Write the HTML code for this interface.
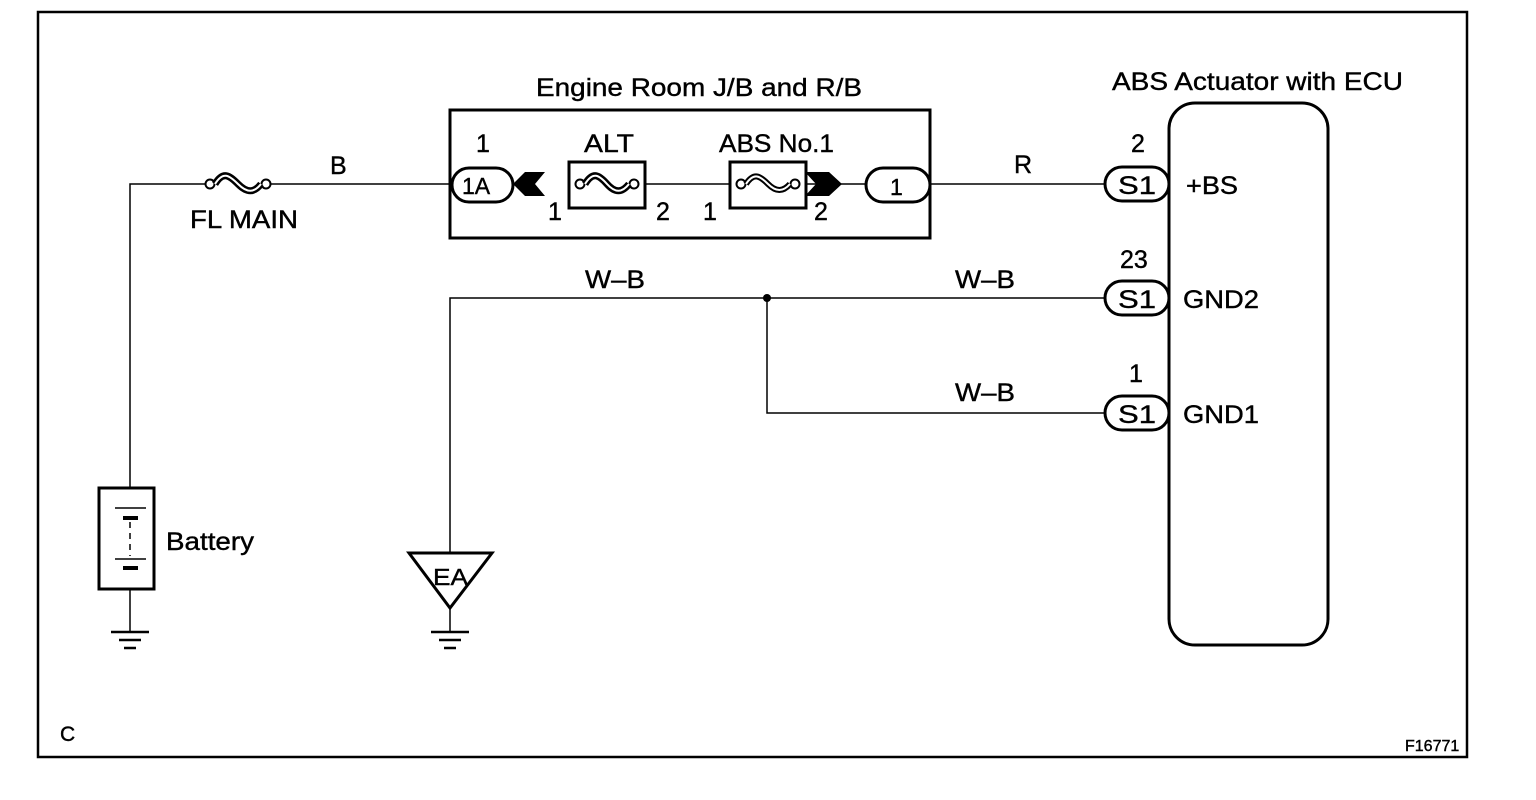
<!DOCTYPE html>
<html><head><meta charset="utf-8"><style>
html,body{margin:0;padding:0;background:#fff;}
svg{display:block;}
text{font-family:"Liberation Sans",Arial,sans-serif;fill:#000;stroke:#000;stroke-width:0.4;}
</style></head><body>
<svg width="1536" height="800" viewBox="0 0 1536 800" xmlns="http://www.w3.org/2000/svg">
<g fill="none" stroke="#000">
<rect x="38" y="12" width="1429" height="745" stroke-width="2.5"/>
<rect x="450" y="110" width="480" height="128" stroke-width="3"/>
<rect x="1169" y="103" width="159" height="542" rx="26" stroke-width="3"/>
<path d="M130 488 V184 H206 M268 184 H452" stroke-width="1.5"/>
<path d="M645 184 H730" stroke-width="1.5"/>
<path d="M930 184 H1106" stroke-width="1.5"/>
<path d="M450 553 V298 H1106 M767 298 V413 H1106" stroke-width="1.5"/>
<path d="M130 589 V632 M450 608 V632" stroke-width="1.5"/>
<circle cx="210" cy="184" r="4.5" stroke-width="2" fill="#fff"/>
<circle cx="266" cy="184" r="4.5" stroke-width="2" fill="#fff"/>
<path d="M215 184 c8 -13 14 -9 23 0 s16 9 23 0" stroke-width="7"/>
<path d="M215 184 c8 -13 14 -9 23 0 s16 9 23 0" stroke-width="2" stroke="#fff"/>
<rect x="99" y="488" width="55" height="101" stroke-width="3"/>
<path d="M115 508 H146 M115 559 H146" stroke-width="1.5"/>
<path d="M123 518 H138 M123 568 H138" stroke-width="4"/>
<path d="M130 522 V556" stroke-width="1.5" stroke-dasharray="6 5"/>
<path d="M111 632 H149 M119 640 H141 M124 648 H136" stroke-width="2.5"/>
<path d="M431 632 H469 M439 640 H461 M444 648 H456" stroke-width="2.5"/>
<path d="M409 553 H492 L450 608 Z" stroke-width="3"/>
<rect x="452" y="168" width="61" height="34" rx="17" stroke-width="3"/>
<rect x="569" y="162" width="76" height="46" stroke-width="3"/>
<circle cx="580" cy="184" r="4.5" stroke-width="2" fill="#fff"/>
<circle cx="634" cy="184" r="4.5" stroke-width="2" fill="#fff"/>
<path d="M585 184 c8 -13 14 -9 22 0 s15 9 22 0" stroke-width="7"/>
<path d="M585 184 c8 -13 14 -9 22 0 s15 9 22 0" stroke-width="2" stroke="#fff"/>
<rect x="730" y="162" width="76" height="46" stroke-width="3"/>
<circle cx="741" cy="184" r="4.5" stroke-width="2" fill="#fff"/>
<circle cx="795" cy="184" r="4.5" stroke-width="2" fill="#fff"/>
<path d="M746 184 c8 -12 14 -8 22 0 s15 8 22 0" stroke-width="6"/>
<path d="M746 184 c8 -12 14 -8 22 0 s15 8 22 0" stroke-width="2" stroke="#fff"/>
<path d="M806 184 H866" stroke-width="1.5"/>
<rect x="866" y="168" width="64" height="34" rx="17" stroke-width="3"/>
<rect x="1105" y="167" width="64" height="34" rx="17" stroke-width="3"/>
<rect x="1105" y="281" width="64" height="34" rx="17" stroke-width="3"/>
<rect x="1105" y="396" width="64" height="34" rx="17" stroke-width="3"/>
</g>
<path d="M513 184 L525 172 H545 L535 184 L545 196 H525 Z" fill="#000"/>
<path d="M805 172 H829 L842 184 L829 196 H805 L816 184 Z" fill="#000"/>
<circle cx="767" cy="298" r="4" fill="#000"/>
<g font-size="25">
<text x="536" y="96" textLength="326" lengthAdjust="spacingAndGlyphs">Engine Room J/B and R/B</text>
<text x="1112" y="90" textLength="291" lengthAdjust="spacingAndGlyphs">ABS Actuator with ECU</text>
<text x="330" y="174">B</text>
<text x="190" y="228" textLength="108" lengthAdjust="spacingAndGlyphs">FL MAIN</text>
<text x="476" y="152">1</text>
<text x="462" y="194" font-size="23">1A</text>
<text x="584" y="152" textLength="50" lengthAdjust="spacingAndGlyphs">ALT</text>
<text x="719" y="152" textLength="115" lengthAdjust="spacingAndGlyphs">ABS No.1</text>
<text x="548" y="220">1</text>
<text x="656" y="220">2</text>
<text x="703" y="220">1</text>
<text x="814" y="220">2</text>
<text x="890" y="195" font-size="23">1</text>
<text x="1014" y="173">R</text>
<text x="1131" y="152">2</text>
<text x="1120" y="268">23</text>
<text x="1129" y="382">1</text>
<text x="1118" y="194" textLength="38" lengthAdjust="spacingAndGlyphs">S1</text>
<text x="1118" y="308" textLength="38" lengthAdjust="spacingAndGlyphs">S1</text>
<text x="1118" y="423" textLength="38" lengthAdjust="spacingAndGlyphs">S1</text>
<text x="1186" y="194" textLength="52" lengthAdjust="spacingAndGlyphs">+BS</text>
<text x="1183" y="308" textLength="76" lengthAdjust="spacingAndGlyphs">GND2</text>
<text x="1183" y="423" textLength="76" lengthAdjust="spacingAndGlyphs">GND1</text>
<text x="585" y="288" textLength="60" lengthAdjust="spacingAndGlyphs">W–B</text>
<text x="955" y="288" textLength="60" lengthAdjust="spacingAndGlyphs">W–B</text>
<text x="955" y="401" textLength="60" lengthAdjust="spacingAndGlyphs">W–B</text>
<text x="166" y="550" textLength="88" lengthAdjust="spacingAndGlyphs">Battery</text>
<text x="433" y="585" font-size="23" textLength="35" lengthAdjust="spacingAndGlyphs">EA</text>
<text x="60" y="741" font-size="21">C</text>
<text x="1405" y="751" font-size="16">F16771</text>
</g>
</svg>
</body></html>
